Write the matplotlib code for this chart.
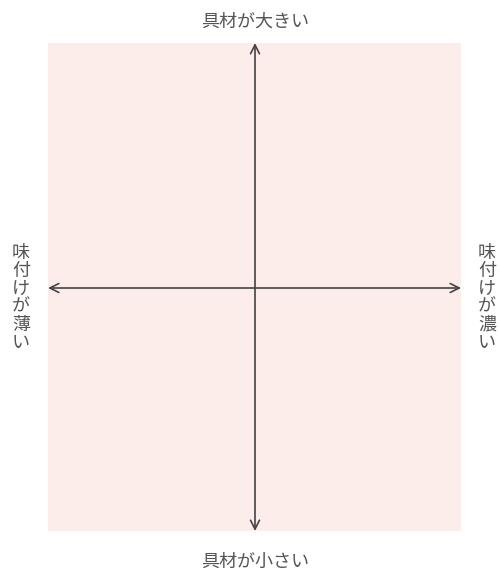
import matplotlib
matplotlib.use('Agg')
import matplotlib.pyplot as plt
from matplotlib.patches import Rectangle

plt.rcParams['font.family'] = ['Noto Sans CJK JP', 'DejaVu Sans']

# axis labels
top_label = '具材が大きい'
bottom_label = '具材が小さい'
left_label = '味付けが薄い'
right_label = '味付けが濃い'

W, H = 500, 572
fig = plt.figure(figsize=(W / 100, H / 100), dpi=100)
ax = fig.add_axes([0, 0, 1, 1])
ax.set_xlim(0, W)
ax.set_ylim(H, 0)
ax.axis('off')

# quadrant area
x0, x1, y0, y1 = 48, 461, 43, 531
ax.add_patch(Rectangle((x0, y0), x1 - x0, y1 - y0, facecolor='#fcecea', edgecolor='none'))

cx, cy = 255, 288
arrow = dict(arrowstyle='<->', color='#444444', lw=1.2, mutation_scale=16,
             shrinkA=0, shrinkB=0)
ax.annotate('', xy=(x0, cy), xytext=(x1, cy), arrowprops=arrow)
ax.annotate('', xy=(cx, y0), xytext=(cx, y1), arrowprops=arrow)

tc = '#555555'
fs = 13
ax.text(cx, 22, top_label, ha='center', va='center', fontsize=fs, color=tc)
ax.text(cx, 562, bottom_label, ha='center', va='center', fontsize=fs, color=tc)
ax.text(21, 298, '\n'.join(left_label), ha='center', va='center', fontsize=fs,
        color=tc, linespacing=1.0)
ax.text(487, 298, '\n'.join(right_label), ha='center', va='center', fontsize=fs,
        color=tc, linespacing=1.0)

plt.savefig('out.png', dpi=100)
